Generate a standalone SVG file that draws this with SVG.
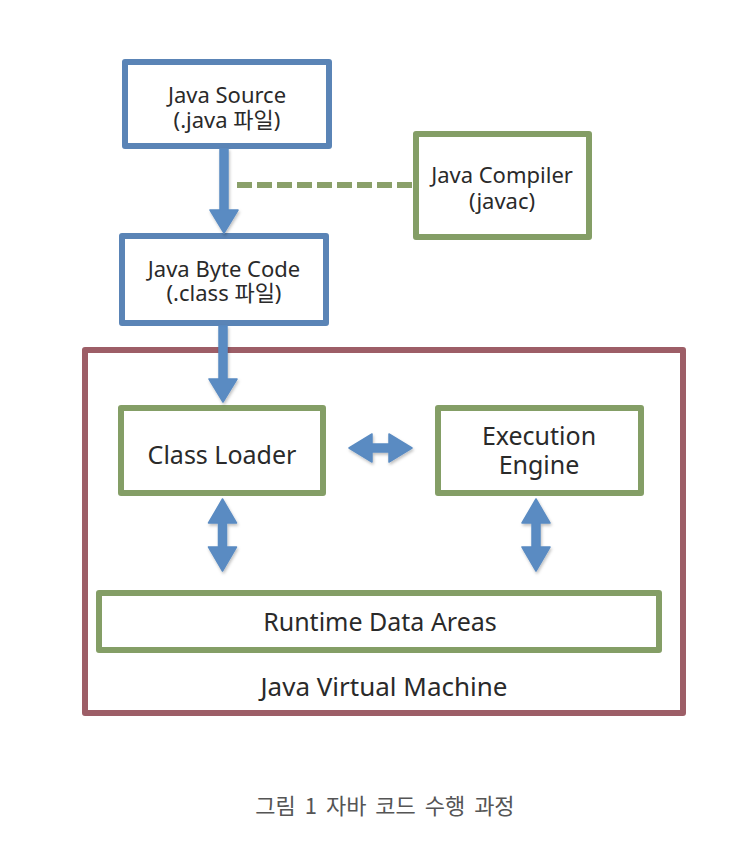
<svg xmlns="http://www.w3.org/2000/svg" width="752" height="862" viewBox="0 0 752 862">
<style>
.box{fill:#fff;stroke-width:6;stroke-linejoin:round}
.blue{stroke:#5a84b6}
.green{stroke:#849e66}
.jvm{fill:#fff;stroke:#9d5e67;stroke-width:6;stroke-linejoin:round}
.t{font-family:"Noto Sans","Noto Sans CJK KR",sans-serif;fill:#2a2a2a;text-anchor:middle}
.s{font-size:22px}
.m{font-size:25px}
.cap{font-family:"Noto Sans CJK KR","Noto Sans",sans-serif;font-size:22px;fill:#555;text-anchor:middle;word-spacing:4px}
.arr{fill:#5a8bc2;stroke:#5a8bc2;stroke-width:1.5;stroke-linejoin:round;filter:url(#sh)}
</style>
<defs>
<filter id="sh" x="-30%" y="-30%" width="160%" height="160%">
<feDropShadow dx="1" dy="2" stdDeviation="1.5" flood-color="#000" flood-opacity="0.25"/>
</filter>
</defs>
<rect width="752" height="862" fill="#fff"/>
<g id="jvm">
<rect class="jvm" x="85" y="350" width="598" height="363"/>
<text class="t m" x="384" y="696" style="font-size:26px">Java Virtual Machine</text>
</g>
<g id="java-source">
<rect class="box blue" x="125" y="62" width="204" height="84"/>
<text class="t s" x="227" y="103">Java Source</text>
<text class="t s" x="227" y="128">(.java 파일)</text>
</g>
<g id="java-compiler">
<rect class="box green" x="416" y="134" width="173" height="103"/>
<text class="t s" x="502" y="183">Java Compiler</text>
<text class="t s" x="502" y="209">(javac)</text>
</g>
<g id="java-byte-code">
<rect class="box blue" x="122" y="236" width="204" height="87"/>
<text class="t s" x="224" y="277">Java Byte Code</text>
<text class="t s" x="224" y="301">(.class 파일)</text>
</g>
<g id="class-loader">
<rect class="box green" x="121" y="408" width="202" height="85"/>
<text class="t m" x="222" y="464">Class Loader</text>
</g>
<g id="execution-engine">
<rect class="box green" x="438" y="408" width="203" height="85"/>
<text class="t m" x="539" y="445">Execution</text>
<text class="t m" x="539" y="474">Engine</text>
</g>
<g id="runtime-data-areas">
<rect class="box green" x="99" y="593" width="560" height="57"/>
<text class="t m" x="380" y="631">Runtime Data Areas</text>
</g>
<g id="connectors">
<line x1="237" y1="185" x2="413" y2="185" stroke="#8aa06a" stroke-width="6" stroke-dasharray="15 5"/>
<path class="arr" d="M220,149 L228,149 L228,210 L238,210 L224,233 L210,210 L220,210 Z"/>
<path class="arr" d="M219,326 L227,326 L227,379 L237,379 L223,402 L209,379 L219,379 Z"/>
<path class="arr" d="M349,448 L372,434 L372,444 L389,444 L389,434 L412,448 L389,462 L389,452 L372,452 L372,462 Z"/>
<path class="arr" d="M222.5,499 L236.5,523 L226.5,523 L226.5,547 L236.5,547 L222.5,571 L208.5,547 L218.5,547 L218.5,523 L208.5,523 Z"/>
<path class="arr" d="M536,499 L550,523 L540,523 L540,547 L550,547 L536,571 L522,547 L532,547 L532,523 L522,523 Z"/>
</g>
<text class="cap" x="385" y="814">그림 1 자바 코드 수행 과정</text>
</svg>
